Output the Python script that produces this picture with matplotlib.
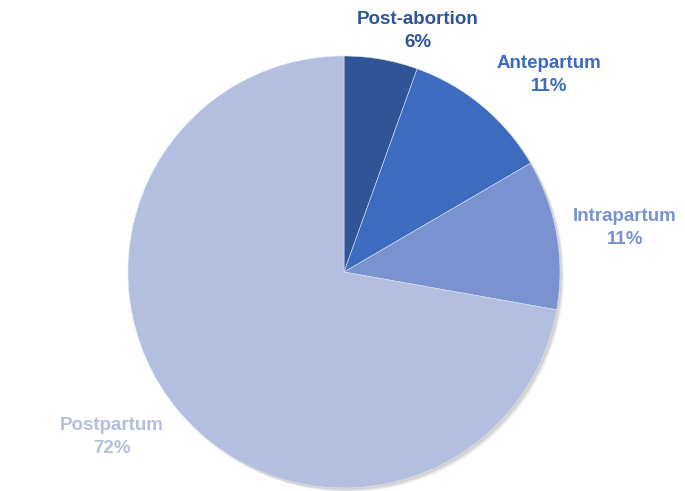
import matplotlib.pyplot as plt
from matplotlib.patches import Circle

# Data
categories = ["Post-abortion", "Antepartum", "Intrapartum", "Postpartum"]
shares = [5.5, 11.1, 11.2, 72.2]
pct_labels = ["6%", "11%", "11%", "72%"]
colors = ["#2F5597", "#3D6BBE", "#7A93D0", "#B4BFDF"]
label_pos = [(418, 460), (549, 416), (625, 263), (112, 54)]  # label centres (px)

plt.rcParams['font.family'] = ['Liberation Sans', 'DejaVu Sans']

fig = plt.figure(figsize=(6.85, 4.91), dpi=100)
ax = fig.add_axes([0, 0, 1, 1])

# soft shadow under the pie
for off, a in [(4, 0.05), (3, 0.06), (2, 0.07)]:
    ax.add_patch(Circle((344 + off, 219 - off), 216, color='black', alpha=a, lw=0))

wedges, _ = ax.pie(shares, colors=colors, startangle=90, counterclock=False,
                   center=(344, 219), radius=216,
                   wedgeprops=dict(linewidth=0.4, edgecolor='#dfe4f2'))

ax.set_xlim(0, 685)
ax.set_ylim(0, 491)
ax.set_aspect('equal')
ax.axis('off')

for name, pct, col, (x, y) in zip(categories, pct_labels, colors, label_pos):
    ax.text(x, y, f"{name}\n{pct}", ha='center', va='center', color=col,
            fontsize=13.5, fontweight='bold', linespacing=1.45)

fig.savefig("out.png", dpi=100)
